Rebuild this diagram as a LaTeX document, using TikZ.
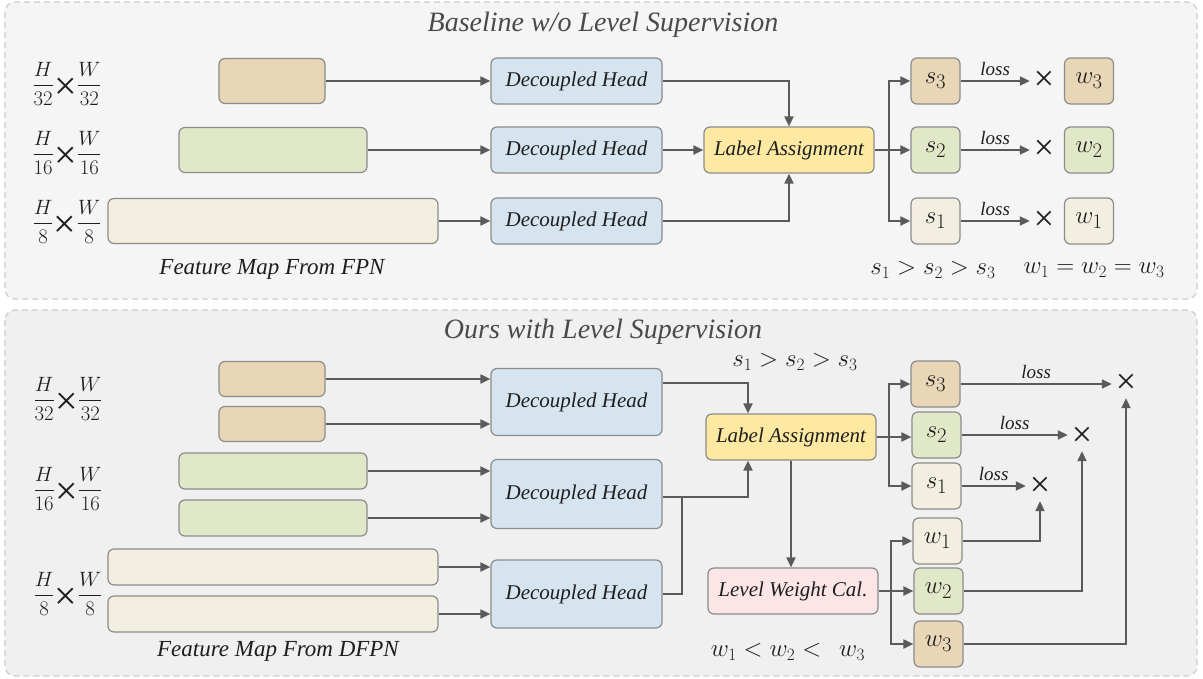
\documentclass[tikz,border=0pt]{standalone}
\usepackage{amsmath}
\usepackage{fontspec}
\setmainfont{Liberation Serif}
\usetikzlibrary{arrows.meta,calc}

\definecolor{tanfill}{HTML}{E8D6B6}
\definecolor{greenfill}{HTML}{E1E8C8}
\definecolor{creamfill}{HTML}{F2EFE1}
\definecolor{headfill}{HTML}{D5E4EF}
\definecolor{assignfill}{HTML}{FDE9A1}
\definecolor{weightfill}{HTML}{FCE5E6}
\definecolor{edgegray}{HTML}{8C8C8C}
\definecolor{linkgray}{HTML}{5A5A5A}
\definecolor{panelA}{HTML}{F5F5F5}
\definecolor{panelB}{HTML}{F0F0F0}
\definecolor{paneledge}{HTML}{CDCDCD}
\definecolor{titlegray}{HTML}{4A4A4A}
\definecolor{inkgray}{HTML}{1E1E1E}

% large thin multiplication sign between the two fractions
\newcommand\bigtimes{\raisebox{-9pt}{\fontsize{40}{40}\selectfont ×}}
\newcommand\scale[2]{$\dfrac{H}{#1}$\hspace{0.5pt}\bigtimes\hspace{0.5pt}$\dfrac{W}{#2}$}

\tikzset{
  blk/.style={draw=edgegray, line width=1.2pt, rounded corners=6pt, inner sep=0pt, text=inkgray},
  fmap/.style={blk, minimum height=#1},
  head/.style={blk, fill=headfill, minimum width=171pt, font=\fontsize{21}{24}\selectfont\itshape},
  wide/.style={blk, minimum width=170pt, minimum height=46pt, font=\fontsize{21}{24}\selectfont\itshape},
  lvl/.style={blk, minimum width=49pt, minimum height=46pt, font=\fontsize{28}{30}\selectfont},
  cross/.style={minimum size=28pt, inner sep=0pt, text=inkgray, font=\fontsize{36}{36}\selectfont},
  link/.style={draw=linkgray, line width=1.9pt, -{Triangle[length=10pt,width=9pt]}},
  plain/.style={draw=linkgray, line width=1.9pt},
  panel/.style={draw=paneledge, line width=1.2pt, dash pattern=on 6pt off 4pt, rounded corners=10pt},
  title/.style={text=titlegray, font=\fontsize{28}{32}\selectfont\itshape},
  caption/.style={text=inkgray, font=\fontsize{23}{26}\selectfont\itshape},
  dims/.style={text=inkgray, inner sep=0pt, font=\fontsize{20}{22}\selectfont},
  rel/.style={text=inkgray, font=\fontsize{24}{26}\selectfont},
  losslbl/.style={above=1pt, text=inkgray, font=\fontsize{19}{22}\selectfont\itshape},
}

\begin{document}
\begin{tikzpicture}[x=1pt, y=-1pt]
\useasboundingbox (0,0) rectangle (1203,678);

% ---------------- panels ----------------
\draw[panel, fill=panelA] (5,2) rectangle (1197,299);
\draw[panel, fill=panelB] (5,310) rectangle (1197,676);

\node[title] (t1) at (603,25) {Baseline w/o Level Supervision};
\node[title] (t2) at (603,332) {Ours with Level Supervision};

% ================= baseline =================
\node[dims] (d32) at (67,84)  {\scale{32}{32}};
\node[dims] (d16) at (67,153) {\scale{16}{16}};
\node[dims] (d8)  at (67,222) {\scale{8}{8}};

\node[fmap=45pt, fill=tanfill,   minimum width=106pt] (a3) at (272,81) {};
\node[fmap=45pt, fill=greenfill, minimum width=188pt] (a2) at (273,150) {};
\node[fmap=45pt, fill=creamfill, minimum width=330pt] (a1) at (273,221) {};
\node[caption] (fa) at (272,269) {Feature Map From FPN};

\node[head, minimum height=46pt] (h3) at (576.5,81)  {Decoupled Head};
\node[head, minimum height=46pt] (h2) at (576.5,150) {Decoupled Head};
\node[head, minimum height=46pt] (h1) at (576.5,221) {Decoupled Head};

\draw[link] (a3.east) -- (a3.east -| h3.west);
\draw[link] (a2.east) -- (a2.east -| h2.west);
\draw[link] (a1.east) -- (a1.east -| h1.west);

\node[wide, fill=assignfill] (la) at (789,150) {Label Assignment};
\draw[link] (h3.east) -| (la.north);
\draw[link] (h2.east) -- (la.west);
\draw[link] (h1.east) -| (la.south);

\node[lvl, fill=tanfill]   (s3) at (935.5,81)  {$s_3$};
\node[lvl, fill=greenfill] (s2) at (935.5,150) {$s_2$};
\node[lvl, fill=creamfill] (s1) at (935.5,221) {$s_1$};
\coordinate (br) at ($(la.east)+(14,0)$);
\draw[link] (la.east) -- (s2.west);
\draw[link] (br) |- (s3.west);
\draw[link] (br) |- (s1.west);

\node[cross] (x3) at (1044,81)  {×};
\node[cross] (x2) at (1044,150) {×};
\node[cross] (x1) at (1044,221) {×};
\draw[link] (s3.east) -- (s3.east -| x3.west) node[midway, losslbl] {loss};
\draw[link] (s2.east) -- (s2.east -| x2.west) node[midway, losslbl] {loss};
\draw[link] (s1.east) -- (s1.east -| x1.west) node[midway, losslbl] {loss};

\node[lvl, fill=tanfill]   (w3) at (1089,81)  {$w_3$};
\node[lvl, fill=greenfill] (w2) at (1089,150) {$w_2$};
\node[lvl, fill=creamfill] (w1) at (1089,221) {$w_1$};

\node[rel] (ra) at (933,270)  {$s_1 > s_2 > s_3$};
\node[rel] (rb) at (1094,270) {$w_1 = w_2 = w_3$};

% ================= level supervision =================
\node[dims] (e32) at (68,399) {\scale{32}{32}};
\node[dims] (e16) at (68,489) {\scale{16}{16}};
\node[dims] (e8)  at (68,594) {\scale{8}{8}};

\node[fmap=35pt, fill=tanfill,   minimum width=106pt] (b3a) at (272,379) {};
\node[fmap=35pt, fill=tanfill,   minimum width=106pt] (b3b) at (272,424) {};
\node[fmap=36pt, fill=greenfill, minimum width=188pt] (b2a) at (273,471) {};
\node[fmap=36pt, fill=greenfill, minimum width=188pt] (b2b) at (273,518) {};
\node[fmap=36pt, fill=creamfill, minimum width=330pt] (b1a) at (273,567) {};
\node[fmap=36pt, fill=creamfill, minimum width=330pt] (b1b) at (273,614) {};
\node[caption] (fb) at (278,651) {Feature Map From DFPN};

\node[head, minimum height=67pt] (g3) at (576.5,402) {Decoupled Head};
\node[head, minimum height=69pt] (g2) at (576.5,494) {Decoupled Head};
\node[head, minimum height=68pt] (g1) at (576.5,594) {Decoupled Head};

\draw[link] (b3a.east) -- (b3a.east -| g3.west);
\draw[link] (b3b.east) -- (b3b.east -| g3.west);
\draw[link] (b2a.east) -- (b2a.east -| g2.west);
\draw[link] (b2b.east) -- (b2b.east -| g2.west);
\draw[link] (b1a.east) -- (b1a.east -| g1.west);
\draw[link] (b1b.east) -- (b1b.east -| g1.west);

\node[wide, fill=assignfill] (lb) at (791,437) {Label Assignment};
\node[wide, fill=weightfill] (lw) at (793,591) {Level Weight Cal.};

\draw[link] ([yshift=19pt]g3.east) -| ([xshift=-43pt]lb.north);
\draw[link] ([yshift=-3pt]g2.east) -| ([xshift=-43pt]lb.south);
\coordinate (jn) at ($([yshift=-3pt]g2.east)+(19,0)$);
\draw[plain] (g1.east) -| (jn);
\draw[link] (lb.south) -- (lb.south |- lw.north);

\node[rel] (rc) at (795,362) {$s_1 > s_2 > s_3$};
\node[rel] (rd) at (788,652) {$w_1 < w_2 <\;\, w_3$};

\node[lvl, fill=tanfill]   (u3) at (935.5,384) {$s_3$};
\node[lvl, fill=greenfill] (u2) at (936.5,435) {$s_2$};
\node[lvl, fill=creamfill] (u1) at (936.5,486) {$s_1$};
\node[lvl, fill=creamfill] (v1) at (937.5,541) {$w_1$};
\node[lvl, fill=greenfill] (v2) at (938.5,591) {$w_2$};
\node[lvl, fill=tanfill]   (v3) at (938.5,644) {$w_3$};

\coordinate (bs) at ($(lb.east)+(12,0)$);
\draw[link] (lb.east) -- (lb.east -| u2.west);
\draw[link] (bs) |- (u3.west);
\draw[link] (bs) |- (u1.west);

\coordinate (bw) at ($(lw.east)+(12,0)$);
\draw[link] (lw.east) -- (lw.east -| v2.west);
\draw[link] (bw) |- (v1.west);
\draw[link] (bw) |- (v3.west);

\node[cross] (y3) at (1126,384) {×};
\node[cross] (y2) at (1082,437) {×};
\node[cross] (y1) at (1040,487) {×};
\draw[link] (u3.east) -- (u3.east -| y3.west) node[midway, losslbl] {loss};
\draw[link] (u2.east) -- (u2.east -| y2.west) node[midway, losslbl] {loss};
\draw[link] (u1.east) -- (u1.east -| y1.west) node[midway, losslbl] {loss};

\draw[link] (v1.east) -| (y1.south);
\draw[link] (v2.east) -| (y2.south);
\draw[link] (v3.east) -| (y3.south);

\end{tikzpicture}
\end{document}
